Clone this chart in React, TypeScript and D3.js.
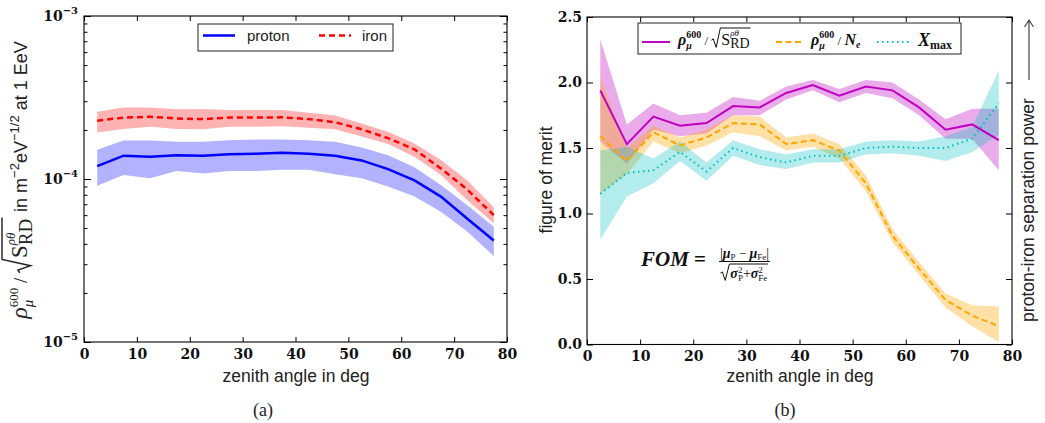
import { useEffect, useRef } from "react";
import * as d3 from "d3";

// zenith angle bin centres (deg)
const angles = [2.5, 7.5, 12.5, 17.5, 22.5, 27.5, 32.5, 37.5, 42.5, 47.5, 52.5, 57.5, 62.5, 67.5, 72.5, 77.5];

// (a) rho600 / sqrt(S_RD) at 1 EeV
const protonMid = [1.2e-4, 1.39e-4, 1.37e-4, 1.4e-4, 1.39e-4, 1.42e-4, 1.43e-4, 1.45e-4, 1.43e-4, 1.39e-4, 1.3e-4, 1.15e-4, 9.8e-5, 7.8e-5, 5.7e-5, 4.2e-5];
const protonHi = [1.51e-4, 1.72e-4, 1.72e-4, 1.69e-4, 1.69e-4, 1.73e-4, 1.75e-4, 1.75e-4, 1.73e-4, 1.69e-4, 1.56e-4, 1.4e-4, 1.18e-4, 9.2e-5, 6.9e-5, 5.1e-5];
const protonLo = [9.1e-5, 1.06e-4, 1.01e-4, 1.12e-4, 1.08e-4, 1.12e-4, 1.12e-4, 1.14e-4, 1.14e-4, 1.07e-4, 1.01e-4, 9.0e-5, 7.8e-5, 6.3e-5, 4.75e-5, 3.37e-5];
const ironMid = [2.28e-4, 2.38e-4, 2.41e-4, 2.35e-4, 2.33e-4, 2.38e-4, 2.38e-4, 2.39e-4, 2.33e-4, 2.23e-4, 2.02e-4, 1.78e-4, 1.52e-4, 1.16e-4, 8.6e-5, 6.0e-5];
const ironHi = [2.59e-4, 2.75e-4, 2.75e-4, 2.68e-4, 2.69e-4, 2.65e-4, 2.65e-4, 2.65e-4, 2.55e-4, 2.45e-4, 2.19e-4, 1.95e-4, 1.65e-4, 1.31e-4, 9.8e-5, 6.7e-5];
const ironLo = [1.93e-4, 2.03e-4, 2.09e-4, 2.03e-4, 2.02e-4, 2.09e-4, 2.09e-4, 2.11e-4, 2.06e-4, 2.02e-4, 1.82e-4, 1.64e-4, 1.37e-4, 1.06e-4, 7.4e-5, 5.35e-5];

// (b) figure of merit
const fomRhoS = [1.94, 1.53, 1.74, 1.67, 1.69, 1.82, 1.81, 1.92, 1.98, 1.9, 1.97, 1.94, 1.81, 1.64, 1.68, 1.56];
const fomRhoSHi = [2.33, 1.68, 1.84, 1.75, 1.77, 1.89, 1.86, 1.97, 2.02, 1.95, 2.02, 2.0, 1.87, 1.72, 1.8, 1.8];
const fomRhoSLo = [1.55, 1.38, 1.64, 1.59, 1.61, 1.75, 1.75, 1.87, 1.94, 1.85, 1.92, 1.88, 1.75, 1.57, 1.57, 1.33];
const fomRhoNe = [1.59, 1.4, 1.62, 1.52, 1.58, 1.69, 1.68, 1.53, 1.56, 1.48, 1.23, 0.83, 0.58, 0.34, 0.22, 0.14];
const fomRhoNeHi = [2.04, 1.5, 1.67, 1.58, 1.64, 1.75, 1.74, 1.58, 1.61, 1.53, 1.29, 0.88, 0.63, 0.39, 0.3, 0.29];
const fomRhoNeLo = [1.15, 1.3, 1.55, 1.46, 1.52, 1.62, 1.59, 1.48, 1.51, 1.42, 1.17, 0.78, 0.53, 0.28, 0.14, 0.02];
const fomXmax = [1.15, 1.31, 1.33, 1.47, 1.32, 1.5, 1.43, 1.39, 1.44, 1.44, 1.5, 1.51, 1.5, 1.5, 1.57, 1.84];
const fomXmaxHi = [1.48, 1.51, 1.42, 1.55, 1.39, 1.56, 1.49, 1.45, 1.49, 1.49, 1.55, 1.56, 1.55, 1.59, 1.66, 2.09];
const fomXmaxLo = [0.8, 1.13, 1.23, 1.4, 1.25, 1.44, 1.37, 1.34, 1.39, 1.39, 1.45, 1.46, 1.44, 1.4, 1.47, 1.6];

const xTicks = [0, 10, 20, 30, 40, 50, 60, 70, 80];
const logMajor = [1e-5, 1e-4, 1e-3];
const logMinor = [2, 3, 4, 5, 6, 7, 8, 9].flatMap(m => [m * 1e-5, m * 1e-4]);
const fomTicks = [0, 0.5, 1.0, 1.5, 2.0, 2.5];

const SERIF = "'Liberation Serif', 'DejaVu Serif', serif";
const TICKF = "'DejaVu Serif', serif";
const SANS = "'Liberation Sans', Arial, sans-serif";

type Piece = { t?: string; fs: number; sans?: boolean; it?: boolean; b?: boolean; dy?: number; stack?: boolean; root?: "open" | "close"; top?: number };

// lays out a little formula left to right, returns its width
function mathRun(g: any, pieces: Piece[], color = "#000"): number {
  let x = 0, lastStart = 0, lastEnd = 0, rootX = 0;
  for (const p of pieces) {
    if (p.root === "open") { rootX = x; x += p.fs * 0.62; lastStart = lastEnd = x; continue; }
    if (p.root === "close") {
      const fs = p.fs, top = p.top ?? -fs * 0.95;
      g.append("path").attr("fill", "none").attr("stroke", color).attr("stroke-width", Math.max(1, fs * 0.06))
        .attr("d", `M${rootX},${-fs * 0.3}L${rootX + fs * 0.12},${-fs * 0.38}L${rootX + fs * 0.3},${fs * 0.15}L${rootX + fs * 0.56},${top}H${x + fs * 0.05}`);
      x += fs * 0.08; lastStart = lastEnd = x; continue;
    }
    const sx = p.stack ? lastStart : x;
    const t = g.append("text").attr("x", sx).attr("y", p.dy ?? 0)
      .style("font-family", p.sans ? SANS : SERIF).style("font-size", p.fs + "px")
      .style("font-style", p.it ? "italic" : "normal").style("font-weight", p.b ? "bold" : "normal")
      .style("white-space", "pre").attr("fill", color).text(p.t!);
    const e = sx + (t.node() as SVGTextElement).getComputedTextLength();
    if (p.stack) { lastEnd = Math.max(lastEnd, e); x = lastEnd; }
    else { lastStart = sx; lastEnd = e; x = e; }
  }
  return x;
}

function styleAxis(g: any, labels = true) {
  g.select(".domain").remove();
  g.selectAll(".tick line").attr("stroke", "#000");
  g.selectAll(".tick text").style("font-family", TICKF).style("font-weight", "bold").style("font-size", "14px").attr("fill", "#111");
  if (!labels) g.selectAll(".tick text").remove();
}

const App = () => {
  const svgRef = useRef<SVGSVGElement>(null);

  useEffect(() => {
    const svg = d3.select(svgRef.current);
    svg.selectAll("*").remove();

    // ---------- panel (a) ----------
    const L = { x0: 84, x1: 507, y0: 16, y1: 342 };
    const xL = d3.scaleLinear().domain([0, 80]).range([L.x0, L.x1]);
    const yL = d3.scaleLog().domain([1e-5, 1e-3]).range([L.y1, L.y0]);

    const bandL = (lo: number[], hi: number[]) => d3.area<number>().x((_, i) => xL(angles[i])).y0((_, i) => yL(lo[i])).y1((_, i) => yL(hi[i]));
    const lineL = (v: number[]) => d3.line<number>().x((_, i) => xL(angles[i])).y((_, i) => yL(v[i]));

    svg.append("path").datum(angles).attr("d", bandL(protonLo, protonHi)).attr("fill", "#0000ff").attr("fill-opacity", 0.3);
    svg.append("path").datum(angles).attr("d", bandL(ironLo, ironHi)).attr("fill", "#ff0000").attr("fill-opacity", 0.3);
    svg.append("path").datum(angles).attr("d", lineL(protonMid)).attr("fill", "none").attr("stroke", "#0000ff").attr("stroke-width", 2.5);
    svg.append("path").datum(angles).attr("d", lineL(ironMid)).attr("fill", "none").attr("stroke", "#ff0000").attr("stroke-width", 2.5).attr("stroke-dasharray", "6,4");

    styleAxis(svg.append("g").attr("transform", `translate(0,${L.y1})`)
      .call(d3.axisBottom(xL).tickValues(xTicks).tickSize(-5).tickPadding(7).tickFormat(d3.format("d"))));
    styleAxis(svg.append("g").attr("transform", `translate(0,${L.y0})`)
      .call(d3.axisTop(xL).tickValues(xTicks).tickSize(-5)), false);
    const yAx = svg.append("g").attr("transform", `translate(${L.x0},0)`)
      .call(d3.axisLeft(yL).tickValues(logMajor).tickSize(-7).tickPadding(6));
    styleAxis(yAx);
    yAx.selectAll(".tick text").text(null).each(function (d: any) {
      const t = d3.select(this);
      t.append("tspan").text("10");
      t.append("tspan").attr("dy", -7).style("font-size", "10px").text("−" + Math.round(-Math.log10(d)));
    });
    styleAxis(svg.append("g").attr("transform", `translate(${L.x0},0)`)
      .call(d3.axisLeft(yL).tickValues(logMinor).tickSize(-3.5)), false);
    styleAxis(svg.append("g").attr("transform", `translate(${L.x1},0)`)
      .call(d3.axisRight(yL).tickValues(logMajor).tickSize(-7)), false);
    styleAxis(svg.append("g").attr("transform", `translate(${L.x1},0)`)
      .call(d3.axisRight(yL).tickValues(logMinor).tickSize(-3.5)), false);
    svg.append("rect").attr("x", L.x0).attr("y", L.y0).attr("width", L.x1 - L.x0).attr("height", L.y1 - L.y0)
      .attr("fill", "none").attr("stroke", "#000").attr("stroke-width", 1.1);

    // legend (a)
    const lgA = svg.append("g");
    lgA.append("rect").attr("x", 198).attr("y", 24).attr("width", 195).attr("height", 27).attr("fill", "#fff").attr("stroke", "#222");
    lgA.append("line").attr("x1", 203).attr("x2", 235).attr("y1", 35.5).attr("y2", 35.5).attr("stroke", "#0000ff").attr("stroke-width", 2.5);
    lgA.append("text").attr("x", 247).attr("y", 41).style("font-family", SANS).style("font-size", "15px").attr("fill", "#222").text("proton");
    lgA.append("line").attr("x1", 319).attr("x2", 351).attr("y1", 35.5).attr("y2", 35.5).attr("stroke", "#ff0000").attr("stroke-width", 2.5).attr("stroke-dasharray", "6,4");
    lgA.append("text").attr("x", 362).attr("y", 41).style("font-family", SANS).style("font-size", "15px").attr("fill", "#222").text("iron");

    // axis labels (a)
    svg.append("text").attr("x", 296).attr("y", 382).attr("text-anchor", "middle").style("font-family", SANS).style("font-size", "17.5px").attr("fill", "#222").text("zenith angle in deg");
    svg.append("text").attr("x", 263).attr("y", 416).attr("text-anchor", "middle").style("font-family", SERIF).style("font-size", "18px").attr("fill", "#222").text("(a)");
    const yLab = svg.append("g");
    const yLabInner = yLab.append("g");
    const wL = mathRun(yLabInner, [
      { t: "ρ", fs: 24, it: true },
      { t: "μ", fs: 15, it: true, dy: 6 },
      { t: "600", fs: 13, dy: -9, stack: true },
      { t: " / ", fs: 19 },
      { root: "open", fs: 24 },
      { t: "S", fs: 23 },
      { t: "ρθ", fs: 13, it: true, dy: -12 },
      { t: "RD", fs: 19, dy: 5, stack: true },
      { root: "close", fs: 24, top: -25 },
      { t: " in m", fs: 18, sans: true },
      { t: "−2", fs: 13, sans: true, dy: -8 },
      { t: "eV", fs: 18, sans: true },
      { t: "−1/2", fs: 13, sans: true, dy: -8 },
      { t: " at 1 EeV", fs: 18, sans: true },
    ], "#222");
    yLabInner.attr("transform", `translate(${-wL / 2},0)`);
    yLab.attr("transform", "translate(27,180) rotate(-90)");

    // ---------- panel (b) ----------
    const R = { x0: 587, x1: 1012, y0: 17, y1: 344.5 };
    const xR = d3.scaleLinear().domain([0, 80]).range([R.x0, R.x1]);
    const yR = d3.scaleLinear().domain([0, 2.5]).range([R.y1, R.y0]);
    const bandR = (lo: number[], hi: number[]) => d3.area<number>().x((_, i) => xR(angles[i])).y0((_, i) => yR(lo[i])).y1((_, i) => yR(hi[i]));
    const lineR = (v: number[]) => d3.line<number>().x((_, i) => xR(angles[i])).y((_, i) => yR(v[i]));

    const MAG = "#bf00bf", ORA = "#ffa500", CYA = "#00bfbf";
    svg.append("path").datum(angles).attr("d", bandR(fomRhoSLo, fomRhoSHi)).attr("fill", MAG).attr("fill-opacity", 0.33);
    svg.append("path").datum(angles).attr("d", bandR(fomRhoNeLo, fomRhoNeHi)).attr("fill", ORA).attr("fill-opacity", 0.35);
    svg.append("path").datum(angles).attr("d", bandR(fomXmaxLo, fomXmaxHi)).attr("fill", CYA).attr("fill-opacity", 0.3);
    svg.append("path").datum(angles).attr("d", lineR(fomRhoS)).attr("fill", "none").attr("stroke", MAG).attr("stroke-width", 2);
    svg.append("path").datum(angles).attr("d", lineR(fomRhoNe)).attr("fill", "none").attr("stroke", ORA).attr("stroke-width", 2).attr("stroke-dasharray", "6,3.5");
    svg.append("path").datum(angles).attr("d", lineR(fomXmax)).attr("fill", "none").attr("stroke", CYA).attr("stroke-width", 2).attr("stroke-dasharray", "1.5,3.5");

    styleAxis(svg.append("g").attr("transform", `translate(0,${R.y1})`)
      .call(d3.axisBottom(xR).tickValues(xTicks).tickSize(-5).tickPadding(7).tickFormat(d3.format("d"))));
    styleAxis(svg.append("g").attr("transform", `translate(0,${R.y0})`)
      .call(d3.axisTop(xR).tickValues(xTicks).tickSize(-5)), false);
    styleAxis(svg.append("g").attr("transform", `translate(${R.x0},0)`)
      .call(d3.axisLeft(yR).tickValues(fomTicks).tickSize(-6).tickPadding(5).tickFormat(d3.format(".1f"))));
    styleAxis(svg.append("g").attr("transform", `translate(${R.x1},0)`)
      .call(d3.axisRight(yR).tickValues(fomTicks).tickSize(-6)), false);
    svg.append("rect").attr("x", R.x0).attr("y", R.y0).attr("width", R.x1 - R.x0).attr("height", R.y1 - R.y0)
      .attr("fill", "none").attr("stroke", "#000").attr("stroke-width", 1.1);

    // legend (b)
    const lgB = svg.append("g");
    lgB.append("rect").attr("x", 638).attr("y", 23).attr("width", 323).attr("height", 31).attr("fill", "#fff").attr("stroke", "#222");
    lgB.append("line").attr("x1", 642).attr("x2", 670).attr("y1", 42).attr("y2", 42).attr("stroke", MAG).attr("stroke-width", 2);
    lgB.append("line").attr("x1", 776).attr("x2", 802).attr("y1", 42).attr("y2", 42).attr("stroke", ORA).attr("stroke-width", 2).attr("stroke-dasharray", "6,3.5");
    lgB.append("line").attr("x1", 877).attr("x2", 910).attr("y1", 42).attr("y2", 42).attr("stroke", CYA).attr("stroke-width", 2).attr("stroke-dasharray", "1.5,3.5");
    const rhoMu: Piece[] = [
      { t: "ρ", fs: 16, it: true, b: true },
      { t: "μ", fs: 10, it: true, b: true, dy: 4 },
      { t: "600", fs: 10, b: true, dy: -7, stack: true },
      { t: " / ", fs: 13 },
    ];
    mathRun(lgB.append("g").attr("transform", "translate(678,45)"), [
      ...rhoMu,
      { root: "open", fs: 16 },
      { t: "S", fs: 16 },
      { t: "ρθ", fs: 9, it: true, dy: -9 },
      { t: "RD", fs: 14, dy: 3, stack: true },
      { root: "close", fs: 16, top: -17 },
    ], "#111");
    mathRun(lgB.append("g").attr("transform", "translate(811,45)"), [
      ...rhoMu,
      { t: "N", fs: 16, it: true, b: true },
      { t: "e", fs: 10, it: true, b: true, dy: 3 },
    ], "#111");
    mathRun(lgB.append("g").attr("transform", "translate(918,46)"), [
      { t: "X", fs: 18, it: true, b: true },
      { t: "max", fs: 12, b: true, dy: 3 },
    ], "#111");

    // FOM formula
    const fom = svg.append("g").attr("transform", "translate(641,266)");
    mathRun(fom, [{ t: "FOM", fs: 21, it: true, b: true }, { t: " =", fs: 21, b: true }], "#111");
    const fx = 78;
    const num = fom.append("g");
    const wn = mathRun(num, [
      { t: "|", fs: 14 }, { t: "μ", fs: 14, it: true, b: true }, { t: "P", fs: 9, dy: 2 },
      { t: " − ", fs: 13 }, { t: "μ", fs: 14, it: true, b: true }, { t: "Fe", fs: 9, dy: 2 }, { t: "|", fs: 14 },
    ], "#111");
    const den = fom.append("g");
    const wd = mathRun(den, [
      { root: "open", fs: 16 },
      { t: "σ", fs: 14, it: true, b: true }, { t: "2", fs: 9, dy: -5 }, { t: "P", fs: 9, dy: 3, stack: true },
      { t: "+", fs: 14 },
      { t: "σ", fs: 14, it: true, b: true }, { t: "2", fs: 9, dy: -5 }, { t: "Fe", fs: 9, dy: 3, stack: true },
      { root: "close", fs: 16, top: -14 },
    ], "#111");
    const W = Math.max(wn, wd) + 2;
    num.attr("transform", `translate(${fx + (W - wn) / 2},-8)`);
    den.attr("transform", `translate(${fx + (W - wd) / 2},12)`);
    fom.append("line").attr("x1", fx).attr("x2", fx + W).attr("y1", -4.5).attr("y2", -4.5).attr("stroke", "#111").attr("stroke-width", 1.2);

    // axis labels (b)
    svg.append("text").attr("x", 800).attr("y", 382).attr("text-anchor", "middle").style("font-family", SANS).style("font-size", "17.5px").attr("fill", "#222").text("zenith angle in deg");
    svg.append("text").attr("x", 785).attr("y", 416).attr("text-anchor", "middle").style("font-family", SERIF).style("font-size", "18px").attr("fill", "#222").text("(b)");
    svg.append("text").attr("transform", "translate(552,180) rotate(-90)").attr("text-anchor", "middle")
      .style("font-family", SANS).style("font-size", "17.5px").attr("fill", "#222").text("figure of merit");
    svg.append("text").attr("transform", "translate(1034,210) rotate(-90)").attr("text-anchor", "middle")
      .style("font-family", SANS).style("font-size", "17.5px").attr("fill", "#222").text("proton-iron separation power");
    svg.append("path").attr("d", "M1029,80V20M1024.5,27L1029,20L1033.5,27").attr("fill", "none").attr("stroke", "#444").attr("stroke-width", 1.2);
  }, []);

  return (
    <svg ref={svgRef} width={1045} height={423} style={{ position: "absolute", left: 0, top: 0, background: "#fff" }}></svg>
  );
};

export default App;
